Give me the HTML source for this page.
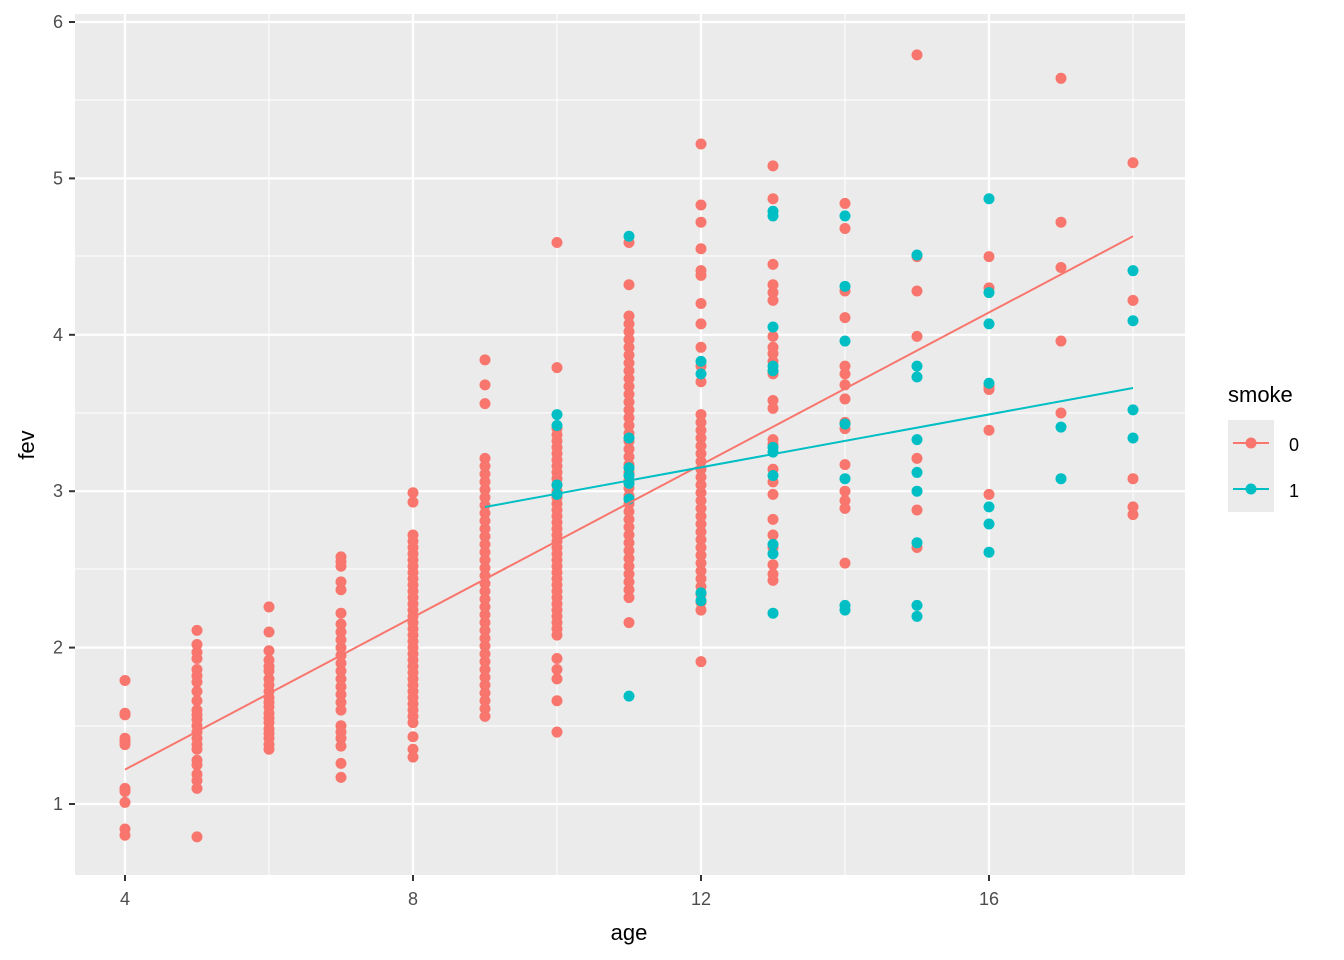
<!DOCTYPE html>
<html><head><meta charset="utf-8"><style>
html,body{margin:0;padding:0;background:#fff;}
svg{display:block;font-family:"Liberation Sans",Arial,sans-serif;}
</style></head><body>
<svg id="s" width="1344" height="960" xmlns="http://www.w3.org/2000/svg">
<rect x="75" y="14" width="1110" height="861" fill="#ebebeb"/>
<g id="grid"></g>
<g id="pts"></g>
<line x1="125" y1="769.6" x2="1133" y2="236.3" stroke="#F8766D" stroke-width="2"/>
<line x1="485" y1="507" x2="1133" y2="388" stroke="#00BFC4" stroke-width="2"/>
<g id="ticks" fill="#4d4d4d" font-size="18"></g>
<text x="629" y="940" font-size="22" text-anchor="middle">age</text>
<text transform="translate(34,445) rotate(-90)" font-size="22" text-anchor="middle">fev</text>
<text x="1228" y="402" font-size="22">smoke</text>
<rect x="1228" y="420" width="46" height="46" fill="#ebebeb"/>
<rect x="1228" y="466" width="46" height="46" fill="#ebebeb"/>
<line x1="1233" y1="443" x2="1269" y2="443" stroke="#F8766D" stroke-width="2"/>
<circle cx="1251" cy="443" r="5.5" fill="#F8766D"/>
<line x1="1233" y1="489" x2="1269" y2="489" stroke="#00BFC4" stroke-width="2"/>
<circle cx="1251" cy="489" r="5.5" fill="#00BFC4"/>
<text x="1289" y="451" font-size="18">0</text>
<text x="1289" y="497" font-size="18">1</text>
</svg>
<script>
var NS="http://www.w3.org/2000/svg";
function X(a){return 125+(a-4)*72;}
function Y(f){return 804-(f-1)*156.4;}
function el(p,t,at){var e=document.createElementNS(NS,t);for(var k in at)e.setAttribute(k,at[k]);document.getElementById(p).appendChild(e);return e;}
[269,557,845,1133].forEach(function(x){el("grid","line",{x1:x,x2:x,y1:14,y2:875,stroke:"#fff","stroke-width":1});});
[726,569,413,256,100].forEach(function(y){el("grid","line",{x1:75,x2:1185,y1:y,y2:y,stroke:"#fff","stroke-width":1});});
[125,413,701,989].forEach(function(x){el("grid","line",{x1:x,x2:x,y1:14,y2:875,stroke:"#fff","stroke-width":2.2});});
for(var f=1;f<=6;f++){var y=Y(f);el("grid","line",{x1:75,x2:1185,y1:y,y2:y,stroke:"#fff","stroke-width":2.2});
el("ticks","line",{x1:69,x2:75,y1:y,y2:y,stroke:"#333","stroke-width":2});
var t=el("ticks","text",{x:63,y:y+6,"text-anchor":"end"});t.textContent=f;}
[4,8,12,16].forEach(function(a){var x=X(a);el("ticks","line",{x1:x,x2:x,y1:875,y2:881,stroke:"#333","stroke-width":2});
var t=el("ticks","text",{x:x,y:905,"text-anchor":"middle"});t.textContent=a;});
function rng(a,b,s){var r=[];for(var v=a;v<=b+1e-9;v+=s)r.push(v);return r;}
var red={4:[1.79,1.58,1.57,1.42,1.40,1.38,1.10,1.08,1.01,0.84,0.80],
5:[2.11,2.02,1.97,1.93,1.86,1.82,1.78,1.72,1.66,1.60,1.57,1.54,1.50,1.46,1.42,1.38,1.35,1.28,1.25,1.19,1.15,1.10,0.79],
6:[2.26,2.10,1.98,1.92,1.88,1.85,1.80,1.76,1.72,1.68,1.65,1.62,1.58,1.55,1.52,1.48,1.45,1.42,1.38,1.35],
7:[2.58,2.55,2.52,2.42,2.37,2.22,2.15,2.10,2.05,2.00,1.95,1.90,1.85,1.80,1.75,1.70,1.65,1.60,1.50,1.46,1.42,1.37,1.26,1.17],
8:rng(1.52,2.74,0.04).concat([2.99,2.93,1.43,1.35,1.30]),
9:rng(1.56,3.24,0.05).concat([3.84,3.68,3.56]),
10:[1.46,1.66,1.80,1.86,1.93,3.79,4.59].concat(rng(2.08,3.40,0.04)),
11:[2.16,4.32,4.59].concat(rng(2.32,4.12,0.05)),
12:[1.91,3.70,3.80,3.92,4.07,4.20,4.38,4.41,4.55,4.72,4.83,5.22].concat(rng(2.24,3.52,0.05)),
13:[2.43,2.47,2.53,2.64,2.72,2.82,2.98,3.06,3.14,3.30,3.33,3.53,3.58,3.75,3.83,3.88,3.92,3.99,4.22,4.27,4.32,4.45,4.87,5.08],
14:[4.84,4.68,4.28,4.11,3.80,3.75,3.68,3.59,3.44,3.40,3.17,3.00,2.94,2.89,2.54],
15:[5.79,4.50,4.28,3.99,3.21,2.88,2.64],
16:[4.50,4.30,3.67,3.65,3.39,2.98],
17:[5.64,4.72,4.43,3.96,3.50],
18:[5.10,4.22,3.08,2.90,2.85]};
var teal={10:[3.49,3.42,3.04,2.98],11:[4.63,3.34,3.15,3.10,3.05,2.95,1.69],12:[3.83,3.75,2.35,2.30],
13:[4.79,4.76,4.05,3.80,3.77,3.28,3.25,3.10,2.66,2.60,2.22],14:[4.76,4.31,3.96,3.43,3.08,2.27,2.24],
15:[4.51,3.80,3.73,3.33,3.12,3.00,2.67,2.27,2.20],16:[4.87,4.27,4.07,3.69,2.90,2.79,2.61],17:[3.41,3.08],18:[4.41,4.09,3.52,3.34]};
function draw(d,c){for(var a in d)d[a].forEach(function(f){el("pts","circle",{cx:X(+a),cy:Y(f),r:5.5,fill:c});});}
draw(red,"#F8766D");draw(teal,"#00BFC4");
</script>
</body></html>
